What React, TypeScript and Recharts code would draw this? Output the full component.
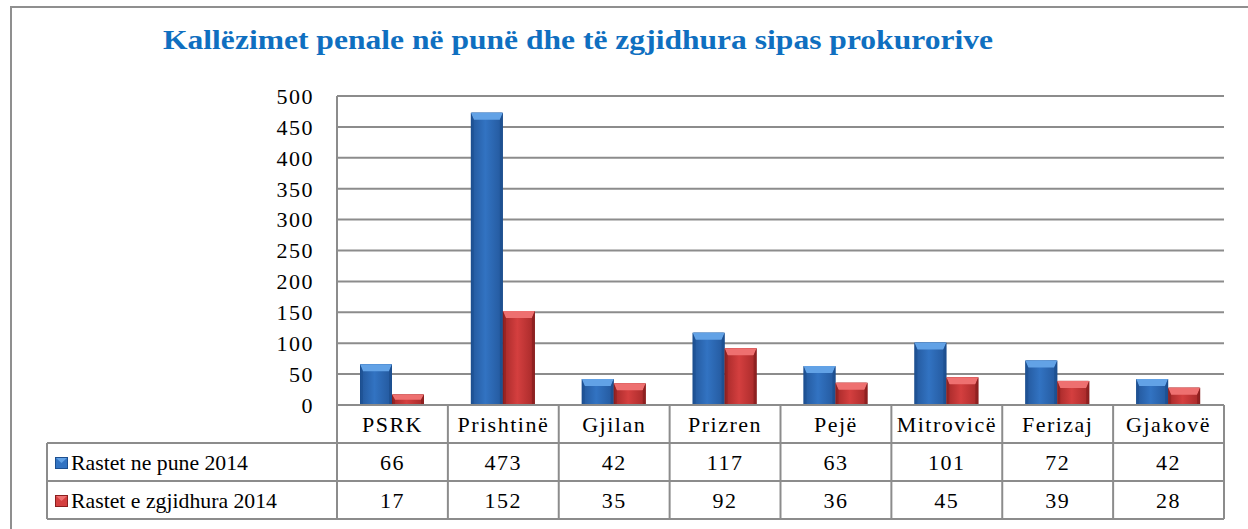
import React from 'react'
import { BarChart, Bar, XAxis, YAxis, CartesianGrid } from 'recharts'

const categories = ['PSRK', 'Prishtinë', 'Gjilan', 'Prizren', 'Pejë', 'Mitrovicë', 'Ferizaj', 'Gjakovë']
const inProgress = [66, 473, 42, 117, 63, 101, 72, 42]
const resolved = [17, 152, 35, 92, 36, 45, 39, 28]
const yTicks = [0, 50, 100, 150, 200, 250, 300, 350, 400, 450, 500]
const seriesNames = ['Rastet ne pune 2014', 'Rastet e zgjidhura 2014']
const title = 'Kallëzimet penale në punë dhe të zgjidhura sipas prokurorive'

const W = 1248
const H = 529
const PLOT_LEFT = 337
const PLOT_RIGHT = 1224
const PLOT_TOP = 96
const AXIS_Y = 405
const ROW1_Y = 443
const ROW2_Y = 481
const TABLE_BOTTOM = 519
const TABLE_LEFT = 47
const BAND = (PLOT_RIGHT - PLOT_LEFT) / categories.length

const GRID = '#8c8c8c'
const FONT = '"Liberation Serif", serif'
const FS = 22
const LS = 1.5

const data = categories.map((name, i) => ({
  name,
  inProgress: inProgress[i],
  resolved: resolved[i],
}))

const palettes = {
  blue: { id: 'gBlue', dark: '#1d4f8f', mid: '#3273c2', edge: '#24599e', light: '#62a2e6' },
  red: { id: 'gRed', dark: '#8a1f1f', mid: '#d43f3f', edge: '#a82a2a', light: '#ee7070' },
}

const makeBevelBar = (p: typeof palettes.blue) => (props: any) => {
  const { x, y, width, height } = props
  if (!height || height <= 0) return <g />
  const b = Math.min(7, height / 2)
  const s = 3
  return (
    <g>
      <defs>
        <linearGradient id={p.id} x1="0" y1="0" x2="1" y2="0">
          <stop offset="0%" stopColor={p.edge} />
          <stop offset="45%" stopColor={p.mid} />
          <stop offset="100%" stopColor={p.edge} />
        </linearGradient>
      </defs>
      <rect x={x} y={y} width={width} height={height} fill={p.dark} />
      <rect x={x + 1} y={y} width={width - 2} height={height} fill={`url(#${p.id})`} />
      <polygon
        points={`${x},${y} ${x + width},${y} ${x + width - s},${y + b} ${x + s},${y + b}`}
        fill={p.light}
      />
      <polygon
        points={`${x},${y} ${x + s},${y + b} ${x + s},${y + height} ${x},${y + height}`}
        fill={p.dark}
        opacity={0.6}
      />
      <polygon
        points={`${x + width},${y} ${x + width - s},${y + b} ${x + width - s},${y + height} ${x + width},${y + height}`}
        fill={p.dark}
        opacity={0.8}
      />
    </g>
  )
}

const LegendSwatch = ({ x, y, p }: { x: number; y: number; p: typeof palettes.blue }) => (
  <g>
    <rect x={x} y={y} width={13} height={12} fill={p.dark} />
    <rect x={x + 1} y={y + 1} width={11} height={10} fill={p.mid} />
    <polygon points={`${x + 1},${y + 1} ${x + 12},${y + 1} ${x + 6.5},${y + 6}`} fill={p.light} />
  </g>
)

const TableTick = (props: any) => {
  const { x, payload } = props
  const i = payload.index
  const right = x + BAND / 2
  return (
    <g fontFamily={FONT} fontSize={FS} fill="#000" letterSpacing={LS}>
      <text x={x} y={(AXIS_Y + ROW1_Y) / 2} textAnchor="middle" dominantBaseline="central">
        {payload.value}
      </text>
      <text x={x} y={(ROW1_Y + ROW2_Y) / 2} textAnchor="middle" dominantBaseline="central">
        {inProgress[i]}
      </text>
      <text x={x} y={(ROW2_Y + TABLE_BOTTOM) / 2} textAnchor="middle" dominantBaseline="central">
        {resolved[i]}
      </text>
      <line x1={right} y1={AXIS_Y} x2={right} y2={TABLE_BOTTOM} stroke={GRID} strokeWidth={2} />
    </g>
  )
}

export default function App() {
  return (
    <div style={{ position: 'absolute', left: 0, top: 0, width: W, height: H, overflow: 'hidden', background: '#fff' }}>
      <div
        style={{
          position: 'absolute',
          left: 10,
          top: 6,
          width: W + 20,
          height: H + 20,
          border: '2px solid #8f8f8f',
        }}
      />
      <svg width={W} height={H} style={{ position: 'absolute', left: 0, top: 0 }}>
        <text
          x={578}
          y={49}
          textAnchor="middle"
          textLength={830}
          lengthAdjust="spacingAndGlyphs"
          fontFamily='"Liberation Serif", serif'
          fontWeight="bold"
          fontSize={28}
          fill="#0f6fc0"
        >
          {title}
        </text>
      </svg>
      <div style={{ position: 'absolute', left: 0, top: 0 }}>
        <BarChart
          width={W}
          height={H}
          data={data}
          margin={{ top: PLOT_TOP, right: W - PLOT_RIGHT, bottom: 0, left: PLOT_LEFT - 60 }}
          barGap={0}
          barSize={32}
        >
          <CartesianGrid vertical={false} stroke={GRID} strokeWidth={2} />
          <XAxis
            dataKey="name"
            height={H - AXIS_Y}
            interval={0}
            tickLine={false}
            axisLine={{ stroke: GRID, strokeWidth: 2 }}
            tick={<TableTick />}
          />
          <YAxis
            width={60}
            domain={[0, 500]}
            ticks={yTicks}
            interval={0}
            tickLine={false}
            tickMargin={17}
            axisLine={{ stroke: GRID, strokeWidth: 2 }}
            tick={{ fontFamily: FONT, fontSize: FS, fill: '#000', letterSpacing: LS }}
          />
          <Bar dataKey="inProgress" name={seriesNames[0]} shape={makeBevelBar(palettes.blue)} isAnimationActive={false} />
          <Bar dataKey="resolved" name={seriesNames[1]} shape={makeBevelBar(palettes.red)} isAnimationActive={false} />
        </BarChart>
      </div>
      <svg width={W} height={H} style={{ position: 'absolute', left: 0, top: 0, pointerEvents: 'none' }}>
        <g stroke={GRID} strokeWidth={2}>
          <line x1={PLOT_LEFT} y1={PLOT_TOP} x2={PLOT_LEFT} y2={TABLE_BOTTOM} />
          <line x1={TABLE_LEFT} y1={ROW1_Y} x2={PLOT_RIGHT} y2={ROW1_Y} />
          <line x1={TABLE_LEFT} y1={ROW2_Y} x2={PLOT_RIGHT} y2={ROW2_Y} />
          <line x1={TABLE_LEFT} y1={TABLE_BOTTOM} x2={PLOT_RIGHT} y2={TABLE_BOTTOM} />
          <line x1={TABLE_LEFT} y1={ROW1_Y} x2={TABLE_LEFT} y2={TABLE_BOTTOM} />
        </g>
        <LegendSwatch x={55} y={(ROW1_Y + ROW2_Y) / 2 - 5} p={palettes.blue} />
        <LegendSwatch x={55} y={(ROW2_Y + TABLE_BOTTOM) / 2 - 5} p={palettes.red} />
        <g fontFamily={FONT} fontSize={FS} fill="#000">
          <text x={71} y={(ROW1_Y + ROW2_Y) / 2} dominantBaseline="central" textLength={177} lengthAdjust="spacingAndGlyphs">
            {seriesNames[0]}
          </text>
          <text x={71} y={(ROW2_Y + TABLE_BOTTOM) / 2} dominantBaseline="central" textLength={206} lengthAdjust="spacingAndGlyphs">
            {seriesNames[1]}
          </text>
        </g>
      </svg>
    </div>
  )
}
